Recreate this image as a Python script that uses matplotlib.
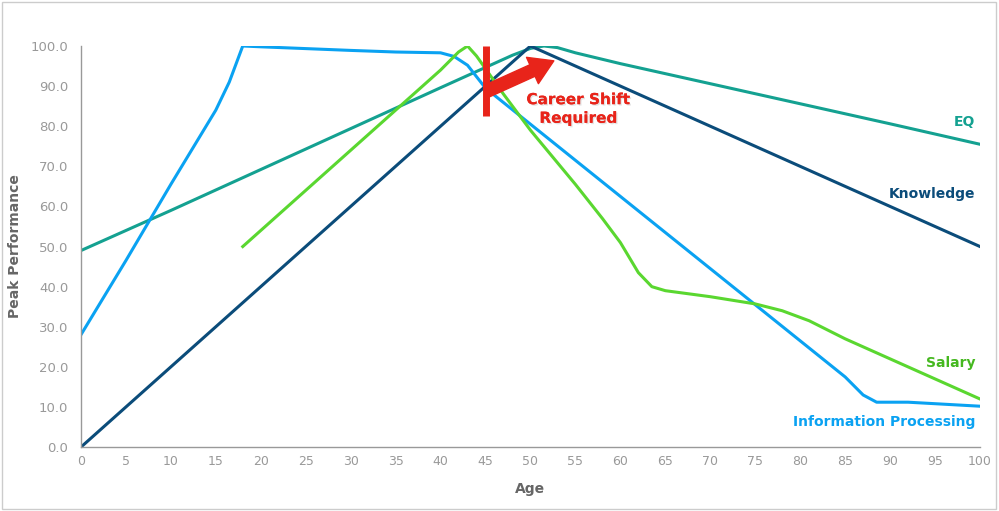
import matplotlib.pyplot as plt
from matplotlib.patches import Rectangle
import matplotlib.patheffects as pe

# ages / values
eq_age = [0, 10, 20, 30, 40, 48, 50, 51.5, 53, 55, 60, 70, 80, 90, 100]
eq_val = [49, 59, 69.2, 79.4, 89.6, 97.7, 99.4, 100, 99.6, 98.3, 95.6, 90.6, 85.6, 80.6, 75.5]

know_age = [0, 50, 100]
know_val = [0, 100, 50]

info_age = [0, 5, 10, 15, 16.5, 17.5, 18, 20, 30, 35, 40, 41.5, 43, 45, 50, 60, 70, 80, 85, 87, 88.5, 92, 100]
info_val = [28, 46.5, 65.5, 84, 91, 97, 100, 99.8, 98.9, 98.5, 98.3, 97.4, 95.2, 89.5, 80.5, 62.5, 44.5, 26.5, 17.5, 13, 11.2, 11.2, 10.2]

sal_age = [18, 30, 40, 42, 43, 44, 47, 50, 55, 58, 60, 62, 63.5, 65, 70, 75, 78, 81, 85, 90, 95, 100]
sal_val = [50, 74, 94, 98.5, 100, 97.5, 88, 79, 65.5, 57, 51, 43.5, 40, 39, 37.5, 35.7, 34, 31.5, 27, 22, 17, 12]

age_ticks = list(range(0, 101, 5))
perf_ticks = list(range(0, 101, 10))

C_EQ = "#14a191"
C_KNOW = "#0b4c7a"
C_INFO = "#0aa2f2"
C_SAL = "#5ad730"
C_RED = "#e8241a"

fig = plt.figure(figsize=(9.99, 5.11), dpi=100)
fig.patches.append(Rectangle((0.002, 0.004), 0.995, 0.993, transform=fig.transFigure,
                             fill=False, edgecolor="#cccccc", lw=1))
ax = fig.add_axes([0.081, 0.125, 0.9, 0.785])

ax.plot(eq_age, eq_val, color=C_EQ, lw=2.2, solid_joinstyle="round")
ax.plot(know_age, know_val, color=C_KNOW, lw=2.2, solid_joinstyle="round")
ax.plot(info_age, info_val, color=C_INFO, lw=2.2, solid_joinstyle="round")
ax.plot(sal_age, sal_val, color=C_SAL, lw=2.2, solid_joinstyle="round")

ax.set_xlim(0, 100)
ax.set_ylim(0, 100)
ax.set_xticks(age_ticks)
ax.set_yticks(perf_ticks)
ax.set_yticklabels([f"{v:.1f}" for v in perf_ticks])
ax.tick_params(length=0, colors="#999999", labelsize=9, pad=6)
ax.tick_params(axis="y", labelsize=9.5, pad=9)
for s in ["top", "right"]:
    ax.spines[s].set_visible(False)
for s in ["left", "bottom"]:
    ax.spines[s].set_color("#999999")
    ax.spines[s].set_linewidth(1)

ax.set_xlabel("Age", color="#666666", fontsize=10, fontweight="bold", labelpad=10)
ax.set_ylabel("Peak Performance", color="#666666", fontsize=10, fontweight="bold")
ax.yaxis.set_label_coords(-0.066, 0.5)

# series labels
ax.text(99.5, 81, "EQ", color=C_EQ, fontsize=10, fontweight="bold", ha="right", va="center")
ax.text(99.5, 63, "Knowledge", color=C_KNOW, fontsize=10, fontweight="bold", ha="right", va="center")
ax.text(99.5, 21, "Salary", color="#45b81f", fontsize=10, fontweight="bold", ha="right", va="center")
ax.text(99.5, 6.2, "Information Processing", color=C_INFO, fontsize=10, fontweight="bold",
        ha="right", va="center")

# career shift annotation
ax.plot([45, 45], [82.5, 100], color=C_RED, lw=5, solid_capstyle="butt", zorder=5)
ax.annotate("", xy=(52.6, 96.3), xytext=(45.2, 88.8),
            arrowprops=dict(arrowstyle="simple,head_length=1.3,head_width=1.6,tail_width=0.7",
                            color=C_RED, shrinkA=0, shrinkB=0, mutation_scale=13),
            zorder=6)
ax.text(55.3, 84.3, "Career Shift\nRequired", color=C_RED, fontsize=11, fontweight="bold",
        ha="center", va="center", linespacing=1.3, zorder=6,
        path_effects=[pe.withSimplePatchShadow(offset=(1, -1), shadow_rgbFace="#bbbbbb", alpha=0.4),
                      pe.Normal()])

fig.savefig("out.png", dpi=100)
